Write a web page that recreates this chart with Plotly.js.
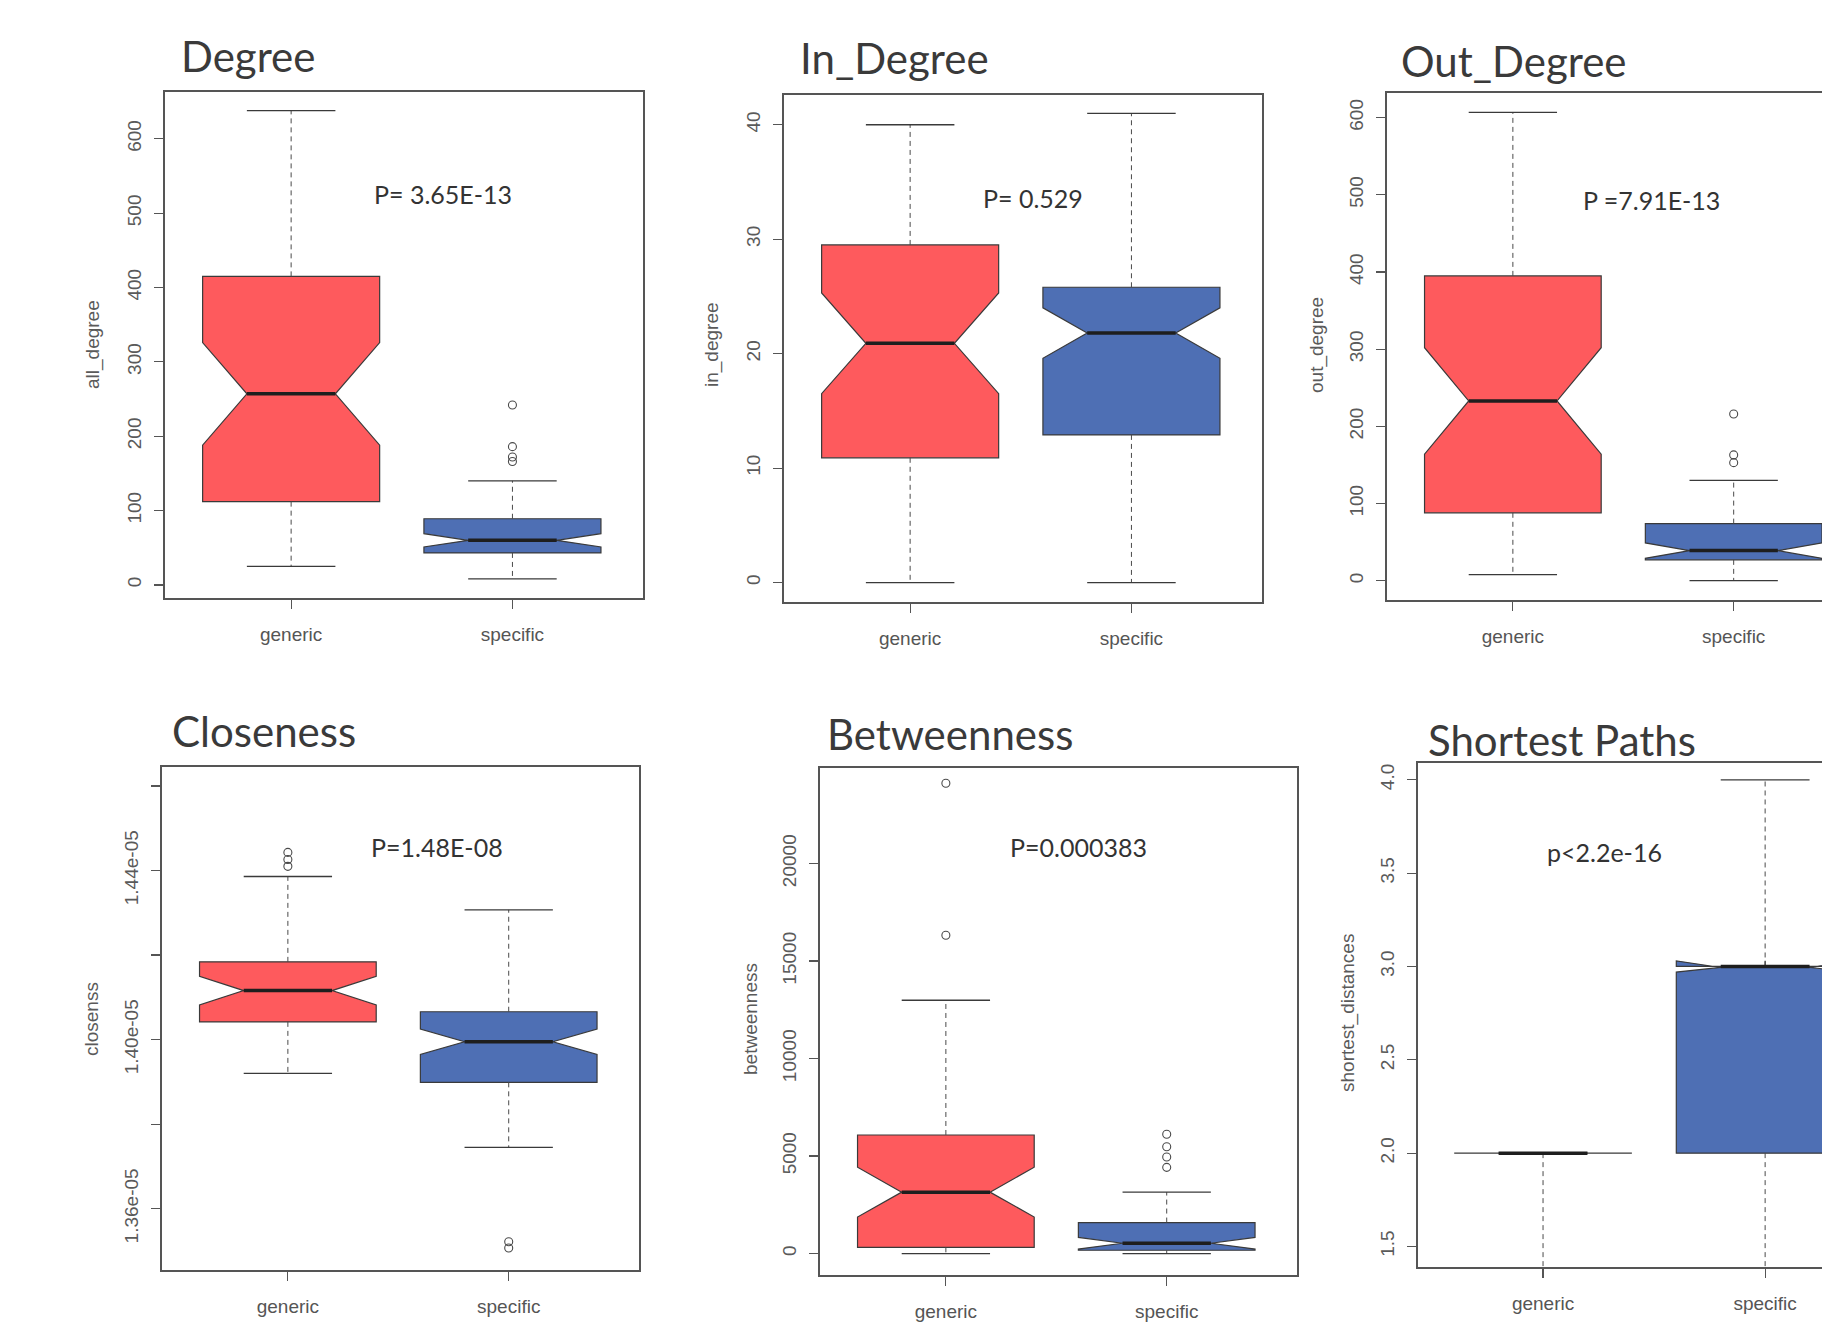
<!DOCTYPE html>
<html>
<head>
<meta charset="utf-8">
<script src="https://cdn.plot.ly/plotly-3.0.1.min.js"></script>
<style>html,body{margin:0;padding:0;background:#fff;}#chart{width:1822px;height:1325px;}</style>
</head>
<body>
<div id="chart"></div>
<script>
// ---------- data ----------
const categories = ['generic', 'specific'];

const degreeLower  = [25, 8];
const degreeQ1     = [112, 43];
const degreeMedian = [257, 60];
const degreeQ3     = [415, 89];
const degreeUpper  = [638, 140];
const degreeNotch  = [69, 9];
const degreeOutliers = [[], [242, 186, 172, 166]];

const inDegreeLower  = [0, 0];
const inDegreeQ1     = [10.9, 12.9];
const inDegreeMedian = [20.9, 21.8];
const inDegreeQ3     = [29.5, 25.8];
const inDegreeUpper  = [40, 41];
const inDegreeNotch  = [4.4, 2.2];
const inDegreeOutliers = [[], []];

const outDegreeLower  = [8, 0];
const outDegreeQ1     = [88, 27];
const outDegreeMedian = [233, 39];
const outDegreeQ3     = [395, 74];
const outDegreeUpper  = [607, 130];
const outDegreeNotch  = [69, 10];
const outDegreeOutliers = [[], [216, 163, 153]];

const closenessLower  = [1.3920e-5, 1.3745e-5];
const closenessQ1     = [1.4042e-5, 1.3899e-5];
const closenessMedian = [1.4116e-5, 1.3995e-5];
const closenessQ3     = [1.4184e-5, 1.4066e-5];
const closenessUpper  = [1.4386e-5, 1.4307e-5];
const closenessNotch  = [0.0034e-5, 0.0030e-5];
const closenessOutliers = [[1.4443e-5, 1.4426e-5, 1.4410e-5], [1.3522e-5, 1.3507e-5]];

const betweennessLower  = [0, 0];
const betweennessQ1     = [320, 170];
const betweennessMedian = [3150, 530];
const betweennessQ3     = [6080, 1590];
const betweennessUpper  = [12990, 3150];
const betweennessNotch  = [1275, 300];
const betweennessOutliers = [[24120, 16320], [6120, 5480, 4950, 4420]];

const shortestLower  = [1, 1];
const shortestQ1     = [2, 2];
const shortestMedian = [2, 3];
const shortestQ3     = [2, 3];
const shortestUpper  = [2, 4];
const shortestNotch  = [0, 0.03];
const shortestOutliers = [[], []];

const closenessTickVals = [1.36e-5, 1.38e-5, 1.40e-5, 1.42e-5, 1.44e-5, 1.46e-5];
const closenessTickText = ['1.36e-05', '', '1.40e-05', '', '1.44e-05', ''];

const panelTitles = ['Degree', 'In_Degree', 'Out_Degree', 'Closeness', 'Betweenness', 'Shortest Paths'];
const yTitles = ['all_degree', 'in_degree', 'out_degree', 'closenss', 'betweenness', 'shortest_distances'];
const pLabels = ['P= 3.65E-13', 'P= 0.529', 'P =7.91E-13', 'P=1.48E-08', 'P=0.000383', 'p<2.2e-16'];

// ---------- styling / layout ----------
const W = 1822, H = 1325;
const fillColors = ['#FE5A5D', '#4E6FB4'];
const BOXW = 0.8;             // box width in category units
const HALF = BOXW / 2;
const MEDFRAC = 0.5;          // box narrows to half width at the median (R notch)
const NOTCHW = (1 - MEDFRAC) / 2;  // Plotly notchwidth equivalent
const CAP = HALF * 0.5;       // staple half width

const panels = [
  {lower: degreeLower, q1: degreeQ1, med: degreeMedian, q3: degreeQ3, upper: degreeUpper, notch: degreeNotch, out: degreeOutliers,
   box: [165, 643, 92, 598], xr: [-0.57, 1.59], yr: [-17.6, 663], dtick: 100, mirrorY: true,
   title: [179, 56], ytitle: [93, 345], p: [443, 194]},
  {lower: inDegreeLower, q1: inDegreeQ1, med: inDegreeMedian, q3: inDegreeQ3, upper: inDegreeUpper, notch: inDegreeNotch, out: inDegreeOutliers,
   box: [784, 1262, 95, 602], xr: [-0.57, 1.59], yr: [-1.7, 42.6], dtick: 10, mirrorY: true,
   title: [798, 58], ytitle: [712, 345], p: [1033, 198]},
  {lower: outDegreeLower, q1: outDegreeQ1, med: outDegreeMedian, q3: outDegreeQ3, upper: outDegreeUpper, notch: outDegreeNotch, out: outDegreeOutliers,
   box: [1387, 1822, 93, 600], xr: [-0.57, 1.40], yr: [-25, 632], dtick: 100, mirrorY: false,
   title: [1399, 61], ytitle: [1317, 345], p: [1651, 200]},
  {lower: closenessLower, q1: closenessQ1, med: closenessMedian, q3: closenessQ3, upper: closenessUpper, notch: closenessNotch, out: closenessOutliers,
   box: [162, 639, 767, 1270], xr: [-0.57, 1.59], yr: [1.3455e-5, 1.4645e-5], tickvals: closenessTickVals, ticktext: closenessTickText, mirrorY: true,
   title: [170, 731], ytitle: [91, 1019], p: [437, 847]},
  {lower: betweennessLower, q1: betweennessQ1, med: betweennessMedian, q3: betweennessQ3, upper: betweennessUpper, notch: betweennessNotch, out: betweennessOutliers,
   box: [820, 1297, 768, 1275], xr: [-0.57, 1.59], yr: [-1100, 24900], dtick: 5000, mirrorY: true,
   title: [825, 734], ytitle: [750, 1019], p: [1078, 847]},
  {lower: shortestLower, q1: shortestQ1, med: shortestMedian, q3: shortestQ3, upper: shortestUpper, notch: shortestNotch, out: shortestOutliers,
   box: [1418, 1822, 763, 1267], xr: [-0.563, 1.256], yr: [1.39, 4.09], dtick: 0.5, tickformat: '.1f', mirrorY: false,
   title: [1426, 740], ytitle: [1348, 1013], p: [1604, 852]}
];

const traces = [];
const layout = {
  width: W, height: H,
  margin: {l: 0, r: 0, t: 0, b: 0},
  paper_bgcolor: '#ffffff', plot_bgcolor: 'rgba(0,0,0,0)',
  showlegend: false, boxmode: 'overlay',
  annotations: []
};

const axisColor = '#555555';
const tickFontY = {family: 'Liberation Sans, Arial, sans-serif', size: 19, color: '#5a5a5a'};
const tickFontX = {family: 'Liberation Sans Narrow, Liberation Sans, Arial, sans-serif', size: 19, color: '#555555'};

panels.forEach((P, k) => {
  const sfx = k === 0 ? '' : String(k + 1);
  const xa = 'x' + sfx, ya = 'y' + sfx;
  const [l, r, t, b] = P.box;

  for (let i = 0; i < categories.length; i++) {
    traces.push({
      type: 'box', xaxis: xa, yaxis: ya, name: categories[i],
      x: [i], q1: [P.q1[i]], median: [P.med[i]], q3: [P.q3[i]],
      lowerfence: [P.q1[i]], upperfence: [P.q3[i]],
      notched: true, notchspan: [P.notch[i]], notchwidth: NOTCHW,
      width: BOXW, whiskerwidth: 0, boxpoints: false,
      fillcolor: fillColors[i], line: {color: '#3a3a3a', width: 1.2},
      hoverinfo: 'skip'
    });
    // dashed whiskers
    traces.push({
      type: 'scatter', mode: 'lines', xaxis: xa, yaxis: ya, hoverinfo: 'skip',
      x: [i, i, null, i, i], y: [P.q3[i], P.upper[i], null, P.q1[i], P.lower[i]],
      line: {color: '#4a4a4a', width: 1, dash: '5px,4px'}
    });
    // staples
    traces.push({
      type: 'scatter', mode: 'lines', xaxis: xa, yaxis: ya, hoverinfo: 'skip',
      x: [i - CAP, i + CAP, null, i - CAP, i + CAP],
      y: [P.upper[i], P.upper[i], null, P.lower[i], P.lower[i]],
      line: {color: '#3a3a3a', width: 1.3}
    });
    // thick median
    traces.push({
      type: 'scatter', mode: 'lines', xaxis: xa, yaxis: ya, hoverinfo: 'skip',
      x: [i - HALF * MEDFRAC, i + HALF * MEDFRAC], y: [P.med[i], P.med[i]],
      line: {color: '#1e1e1e', width: 3.5}
    });
    // outliers
    if (P.out[i].length) {
      traces.push({
        type: 'scatter', mode: 'markers', xaxis: xa, yaxis: ya, hoverinfo: 'skip',
        x: P.out[i].map(() => i), y: P.out[i],
        marker: {symbol: 'circle-open', size: 8, color: '#4a4a4a', line: {width: 1.1, color: '#4a4a4a'}},
        cliponaxis: false
      });
    }
  }

  layout['xaxis' + sfx] = {
    domain: [l / W, r / W], range: P.xr, anchor: ya,
    tickmode: 'array', tickvals: [0, 1], ticktext: categories,
    ticks: 'outside', ticklen: 9, tickwidth: 1.2, tickcolor: axisColor,
    ticklabelstandoff: 10,
    showline: true, mirror: true, linecolor: axisColor, linewidth: 1.6,
    showgrid: false, zeroline: false, fixedrange: true, tickfont: tickFontX
  };
  const yax = {
    domain: [1 - b / H, 1 - t / H], range: P.yr, anchor: xa,
    ticks: 'outside', ticklen: 9, tickwidth: 1.2, tickcolor: axisColor,
    tickangle: -90, ticklabelstandoff: 6,
    showline: true, mirror: P.mirrorY, linecolor: axisColor, linewidth: 1.6,
    showgrid: false, zeroline: false, fixedrange: true, tickfont: tickFontY
  };
  if (P.tickvals) { yax.tickmode = 'array'; yax.tickvals = P.tickvals; yax.ticktext = P.ticktext; }
  else { yax.dtick = P.dtick; yax.tick0 = 0; yax.tickformat = P.tickformat || 'd'; }
  layout['yaxis' + sfx] = yax;

  layout.annotations.push({
    text: panelTitles[k], xref: 'paper', yref: 'paper',
    x: P.title[0] / W, y: 1 - P.title[1] / H, xanchor: 'left', yanchor: 'middle',
    showarrow: false, font: {family: 'Lato, Open Sans, sans-serif', size: 42, color: '#3a3a3a'}
  });
  layout.annotations.push({
    text: yTitles[k], xref: 'paper', yref: 'paper', textangle: -90,
    x: P.ytitle[0] / W, y: 1 - P.ytitle[1] / H, xanchor: 'center', yanchor: 'middle',
    showarrow: false, font: {family: 'Liberation Sans, Arial, sans-serif', size: 19, color: '#5a5a5a'}
  });
  layout.annotations.push({
    text: pLabels[k], xref: 'paper', yref: 'paper',
    x: P.p[0] / W, y: 1 - P.p[1] / H, xanchor: 'center', yanchor: 'middle',
    showarrow: false, font: {family: 'Lato, Open Sans, sans-serif', size: 25, color: '#333333'}
  });
});

Plotly.newPlot('chart', traces, layout, {staticPlot: true, displayModeBar: false});
</script>
</body>
</html>
